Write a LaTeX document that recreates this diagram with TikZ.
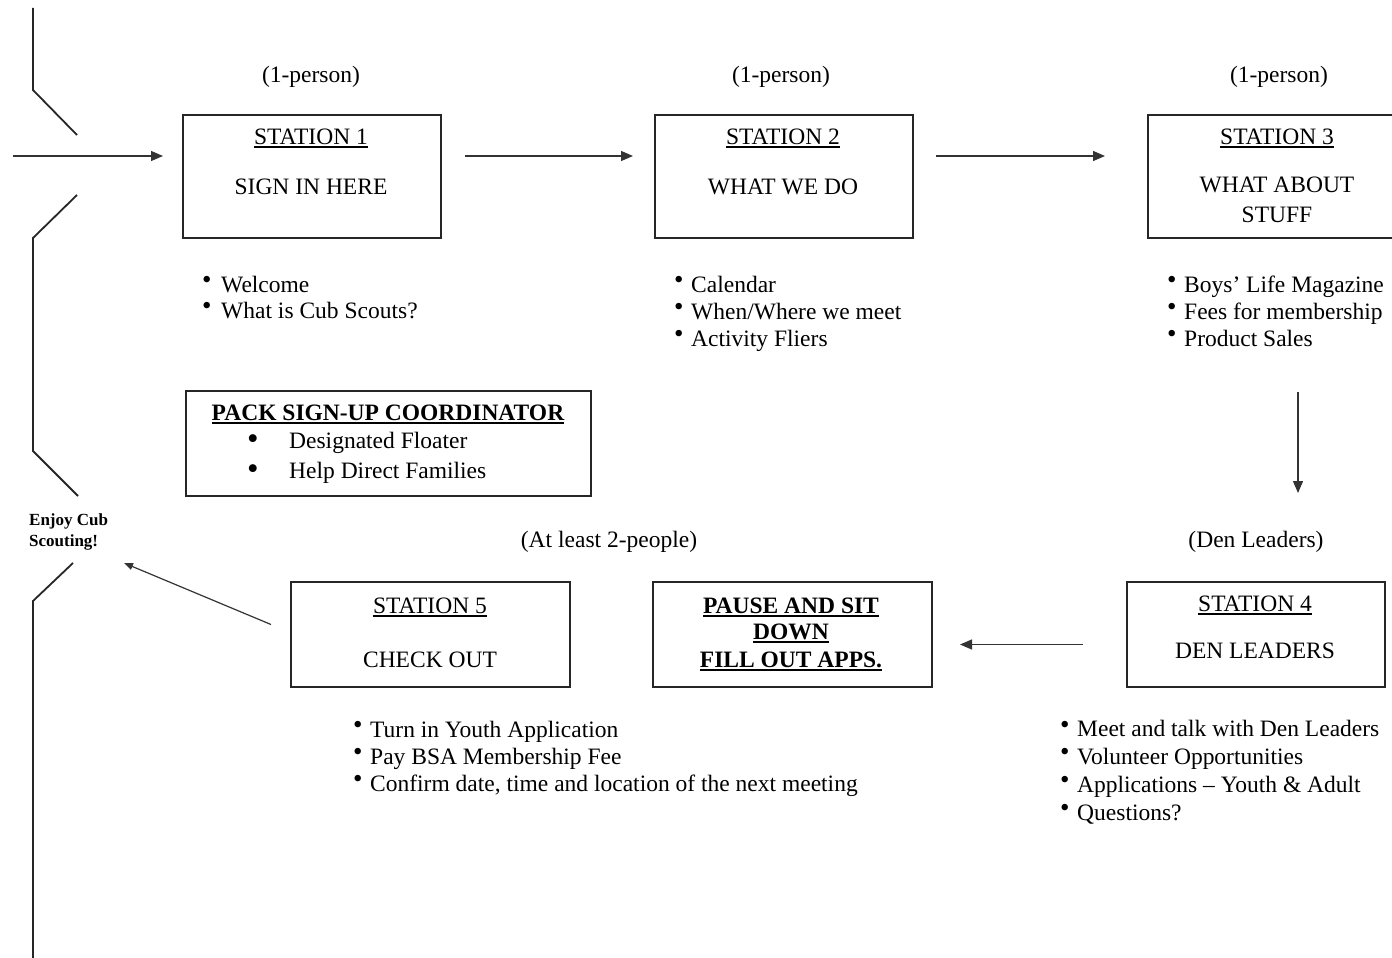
\documentclass[tikz,border=0pt]{standalone}
\usepackage{fontspec}
\setmainfont{Liberation Serif}
\usetikzlibrary{arrows.meta}
\newcommand{\ulx}[1]{\leavevmode\setbox0\hbox{#1}\rlap{\rule[-3.6pt]{\wd0}{1.7pt}}\box0}
\newcommand{\bul}[1][15pt]{\makebox[#1][l]{\raisebox{0.16em}{\scalebox{1.15}{\textbullet}}}}
\newcommand{\bigbul}{\makebox[42pt][l]{\raisebox{-0.05em}{\scalebox{1.4}{\textbullet}}}}
\begin{document}
\begin{tikzpicture}[x=1pt,y=-1pt,
  box/.style={draw=black!85, line width=2pt, inner sep=0pt, anchor=north west},
  txt/.style={inner sep=0pt, anchor=base, font=\fontsize{23.5}{27}\selectfont},
  lst/.style={inner sep=0pt, anchor=base west, align=left, font=\fontsize{23.5}{27}\selectfont},
  arr/.style={draw=black!80, line width=1.3pt, -{Triangle[length=12pt,width=10pt]}},
  sarr/.style={draw=black!80, line width=1.2pt, -{Triangle[length=9pt,width=7pt]}},
  edge/.style={draw=black!85, line width=1.8pt}]
\path[use as bounding box] (0,0) rectangle (1392,958);
\clip (0,0) rectangle (1392,958);

% left frame
\coordinate (l1) at (33,8);
\coordinate (l2) at (33,90);
\coordinate (l3) at (77,135);
\coordinate (l4) at (77,195);
\coordinate (l5) at (33,238);
\coordinate (l6) at (33,451);
\coordinate (l7) at (78,496);
\coordinate (l8) at (73,563);
\coordinate (l9) at (33,601);
\coordinate (l10) at (33,958);
\draw[edge] (l1) -- (l2) -- (l3);
\draw[edge] (l4) -- (l5) -- (l6) -- (l7);
\draw[edge] (l8) -- (l9) -- (l10);

% boxes
\node[box, minimum width=258pt, minimum height=123pt] (b1) at (182,114) {};
\node[box, minimum width=258pt, minimum height=123pt] (b2) at (654,114) {};
\node[box, minimum width=262pt, minimum height=123pt] (b3) at (1147,114) {};
\node[box, minimum width=258pt, minimum height=105pt] (b4) at (1126,581) {};
\node[box, minimum width=279pt, minimum height=105pt] (bp) at (652,581) {};
\node[box, minimum width=279pt, minimum height=105pt] (b5) at (290,581) {};
\node[box, minimum width=405pt, minimum height=105pt] (pk) at (185,390) {};

% station texts
\node[txt] (p1) at (311,82) {(1-person)};
\node[txt] (p2) at (781,82) {(1-person)};
\node[txt] (p3) at (1279,82) {(1-person)};
\node[txt] (s1t) at (311,144) {\ulx{STATION 1}};
\node[txt] (s1b) at (311,194) {SIGN IN HERE};
\node[txt] (s2t) at (783,144) {\ulx{STATION 2}};
\node[txt] (s2b) at (783,194) {WHAT WE DO};
\node[txt] (s3t) at (1277,144) {\ulx{STATION 3}};
\node[txt] (s3b) at (1277,192) {WHAT ABOUT};
\node[txt] (s3c) at (1277,222) {STUFF};

\node[lst, font=\fontsize{23.5}{26.5}\selectfont] (l1t) at (202,318.5) {\bul[19pt]Welcome\\\bul[19pt]What is Cub Scouts?};
\node[lst] (l2t) at (674,346) {\bul[17pt]Calendar\\\bul[17pt]When/Where we meet\\\bul[17pt]Activity Fliers};
\node[lst] (l3t) at (1167,346) {\bul[17pt]Boys' Life Magazine\\\bul[17pt]Fees for membership\\\bul[17pt]Product Sales};

% pack box
\node[txt, font=\fontsize{23.5}{27}\selectfont\bfseries] (pkt) at (388,420) {\ulx{PACK SIGN-UP COORDINATOR}};
\node[lst, font=\fontsize{23.5}{30}\selectfont] (pkl) at (247,478) {\bigbul Designated Floater\\\bigbul Help Direct Families};

\node[inner sep=0pt, anchor=base west, align=left, font=\fontsize{17}{21}\selectfont\bfseries] (enj) at (29,546) {Enjoy Cub\\Scouting!};

% lower row
\node[txt] (al) at (609,547) {(At least 2-people)};
\node[txt] (dl) at (1256,547) {(Den Leaders)};
\node[txt] (s4t) at (1255,611) {\ulx{STATION 4}};
\node[txt] (s4b) at (1255,658) {DEN LEADERS};
\node[txt, font=\fontsize{23.5}{27}\selectfont\bfseries] (pa) at (791,613) {\ulx{PAUSE AND SIT}};
\node[txt, font=\fontsize{23.5}{27}\selectfont\bfseries] (pb) at (791,639) {\ulx{DOWN}};
\node[txt, font=\fontsize{23.5}{27}\selectfont\bfseries] (pc) at (791,667) {\ulx{FILL OUT APPS.}};
\node[txt] (s5t) at (430,613) {\ulx{STATION 5}};
\node[txt] (s5b) at (430,667) {CHECK OUT};

\node[lst] (l5t) at (353,791) {\bul[17pt]Turn in Youth Application\\\bul[17pt]Pay BSA Membership Fee\\\bul[17pt]Confirm date, time and location of the next meeting};
\node[lst, font=\fontsize{23.5}{27.7}\selectfont] (l4t) at (1060,820) {\bul[17pt]Meet and talk with Den Leaders\\\bul[17pt]Volunteer Opportunities\\\bul[17pt]Applications -- Youth \& Adult\\\bul[17pt]Questions?};

% connectors
\coordinate (in) at (13,156);
\coordinate (enjtip) at (124,563);
\draw[arr] (in) -- ([shift={(-19,42)}]b1.north west);
\draw[arr] ([shift={(23,42)}]b1.north east) -- ([shift={(-21,42)}]b2.north west);
\draw[arr] ([shift={(22,42)}]b2.north east) -- ([shift={(-42,42)}]b3.north west);
\draw[arr] ([shift={(151,153)}]b3.south west) -- ([shift={(172,-88)}]b4.north west);
\draw[arr] ([shift={(-43,10)}]b4.west) -- ([shift={(27,10)}]bp.east);
\draw[sarr] ([shift={(-19,-10)}]b5.west) -- (enjtip);
\end{tikzpicture}
\end{document}
